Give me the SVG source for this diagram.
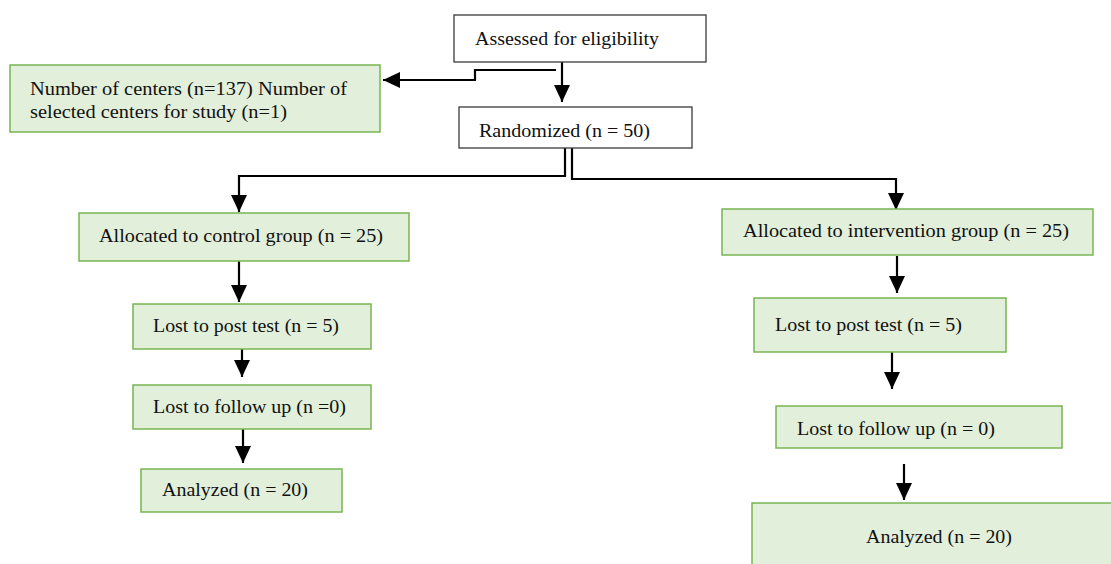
<svg xmlns="http://www.w3.org/2000/svg" width="1111" height="564" viewBox="0 0 1111 564">
  <style>
    .w { fill: #ffffff; stroke: #3a3a3a; stroke-width: 1.3; }
    .g { fill: #E2EFDA; stroke: #78B552; stroke-width: 1.5; }
    text { font-family: "Liberation Serif", "Times New Roman", serif; font-size: 19px; fill: #111111; }
    .c { fill: none; stroke: #000000; stroke-width: 2.2; }
  </style>
  <defs>
    <marker id="ah" markerUnits="userSpaceOnUse" markerWidth="17" markerHeight="16" refX="17" refY="8" orient="auto">
      <path d="M0,0 L17,8 L0,16 z" fill="#000000"/>
    </marker>
  </defs>
  <rect width="1111" height="564" fill="#ffffff"/>

  <g id="connectors">
    <path class="c" d="M556,70 L475,70 L475,80 L383,80" marker-end="url(#ah)"/>
    <path class="c" d="M562,57 L562,102" marker-end="url(#ah)"/>
    <path class="c" d="M565,145 L565,176 L239,176 L239,212" marker-end="url(#ah)"/>
    <path class="c" d="M572,147 L572,179 L896,179 L896,210" marker-end="url(#ah)"/>
    <path class="c" d="M239,257 L239,302" marker-end="url(#ah)"/>
    <path class="c" d="M242,340 L242,377" marker-end="url(#ah)"/>
    <path class="c" d="M243,428 L243,463" marker-end="url(#ah)"/>
    <path class="c" d="M897,256 L897,293" marker-end="url(#ah)"/>
    <path class="c" d="M892,352 L892,389" marker-end="url(#ah)"/>
    <path class="c" d="M904,464 L904,500" marker-end="url(#ah)"/>
  </g>

  <g id="assessed">
    <rect class="w" x="454" y="15" width="252" height="47"/>
    <text x="475" y="45" textLength="184" lengthAdjust="spacingAndGlyphs">Assessed for eligibility</text>
  </g>
  <g id="randomized">
    <rect class="w" x="459" y="107" width="233" height="41"/>
    <text x="479" y="137" textLength="171" lengthAdjust="spacingAndGlyphs">Randomized (n = 50)</text>
  </g>
  <g id="centers">
    <rect class="g" x="10" y="65" width="370" height="67"/>
    <text x="30" y="95" textLength="317" lengthAdjust="spacingAndGlyphs">Number of centers (n=137) Number of</text>
    <text x="30" y="118" textLength="257" lengthAdjust="spacingAndGlyphs">selected centers for study (n=1)</text>
  </g>
  <g id="alloc-control">
    <rect class="g" x="79" y="213" width="330" height="48"/>
    <text x="99" y="242" textLength="284" lengthAdjust="spacingAndGlyphs">Allocated to control group (n = 25)</text>
  </g>
  <g id="lost-post-control">
    <rect class="g" x="133" y="304" width="238" height="45"/>
    <text x="153" y="332" textLength="186" lengthAdjust="spacingAndGlyphs">Lost to post test (n = 5)</text>
  </g>
  <g id="lost-follow-control">
    <rect class="g" x="133" y="385" width="238" height="44"/>
    <text x="153" y="413" textLength="193" lengthAdjust="spacingAndGlyphs">Lost to follow up (n =0)</text>
  </g>
  <g id="analyzed-control">
    <rect class="g" x="141" y="469" width="201" height="43"/>
    <text x="162" y="496" textLength="146" lengthAdjust="spacingAndGlyphs">Analyzed (n = 20)</text>
  </g>
  <g id="alloc-intervention">
    <rect class="g" x="722" y="209" width="371" height="46"/>
    <text x="743" y="237" textLength="326" lengthAdjust="spacingAndGlyphs">Allocated to intervention group (n = 25)</text>
  </g>
  <g id="lost-post-intervention">
    <rect class="g" x="754" y="298" width="252" height="54"/>
    <text x="775" y="331" textLength="187" lengthAdjust="spacingAndGlyphs">Lost to post test (n = 5)</text>
  </g>
  <g id="lost-follow-intervention">
    <rect class="g" x="776" y="406" width="286" height="42"/>
    <text x="797" y="435" textLength="198" lengthAdjust="spacingAndGlyphs">Lost to follow up (n = 0)</text>
  </g>
  <g id="analyzed-intervention">
    <rect class="g" x="752" y="503" width="365" height="70"/>
    <text x="866" y="543" textLength="146" lengthAdjust="spacingAndGlyphs">Analyzed (n = 20)</text>
  </g>
</svg>
